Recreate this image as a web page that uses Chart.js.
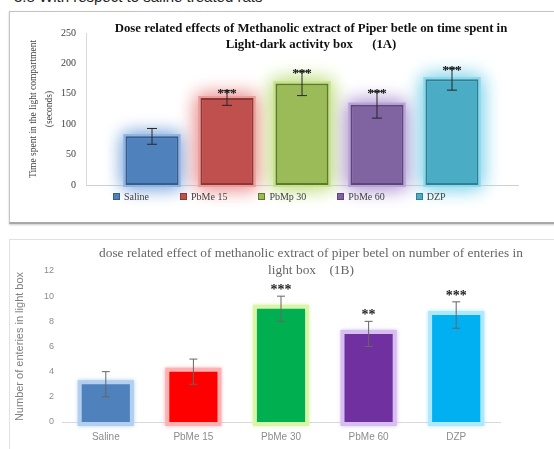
<!DOCTYPE html>
<html>
<head>
<meta charset="utf-8">
<script src="https://cdn.jsdelivr.net/npm/chart.js@4.4.0/dist/chart.umd.min.js"></script>
<style>
  body { margin: 0; width: 554px; height: 449px; overflow: hidden; background: #fff; position: relative; }
  .heading { position: absolute; left: 14px; top: -11px; font: 15px "Liberation Sans", Arial, sans-serif; color: #222; white-space: nowrap; line-height: 16px; }
  .frame { position: absolute; background: #fff; }
  #frameA { left: 9px; top: 11px; width: 600px; height: 210px; border: 1px solid #c4c4c4; border-bottom: 2px solid #a8a8a8; box-shadow: 0 1px 2px #ccc; }
  #frameB { left: 9px; top: 239px; width: 600px; height: 260px; border: 1px solid #e2e2e2; }
  canvas { position: absolute; }
  #chartA { left: 10px; top: 12px; }
  #chartB { left: 10px; top: 240px; }
  .titleA { position: absolute; left: 0; width: 622px; text-align: center; font: bold 12.8px "Liberation Serif", "Times New Roman", serif; color: #111; white-space: pre; }
  .titleB { position: absolute; left: 0; width: 622px; text-align: center; font: 13.4px "Liberation Serif", "Times New Roman", serif; color: #666; white-space: pre; }
  #legendA { position: absolute; left: 113px; top: 191px; display: flex; gap: 31px; font: 10px "Liberation Serif", serif; color: #404040; }
  #legendA .item { display: flex; align-items: center; }
  #legendA .box { width: 5px; height: 5px; margin-right: 4px; border: 1px solid; }
</style>
</head>
<body>
<div class="heading">3.8 With respect to saline treated rats</div>
<div class="frame" id="frameA"></div>
<div class="frame" id="frameB"></div>
<canvas id="chartA" width="544" height="209"></canvas>
<canvas id="chartB" width="544" height="209"></canvas>
<div class="titleA" style="top:21px">Dose related effects of Methanolic extract of Piper betle on time spent in</div>
<div class="titleA" style="top:37px">Light-dark activity box      (1A)</div>
<div class="titleB" style="top:245px">dose related effect of methanolic extract of piper betel on number of enteries in</div>
<div class="titleB" style="top:262px">light box    (1B)</div>
<div id="legendA"></div>

<script>
// -----------------------------
// Data (1A) time spent in light box
// -----------------------------
const groupsA = ["Saline", "PbMe 15", "PbMp 30", "PbMe 60", "DZP"];
const timeSpent = [80, 143, 167, 132, 174];
const timeErr = [13, 12, 20, 22, 18];
const timeSig = ["", "***", "***", "***", "***"];
const yTicksA = [0, 50, 100, 150, 200, 250];

const fillA = ["#4f81bd", "#c0504d", "#9bbb59", "#8064a2", "#4bacc6"];
const borderA = ["#385d8a", "#8c3836", "#5f7a2c", "#5c4776", "#2f7f95"];
const glowA = ["#8fb4e3", "#ec9c9a", "#c6e28c", "#b9a3d8", "#8fd8ec"];

// -----------------------------
// Data (1B) number of entries in light box
// -----------------------------
const groupsB = ["Saline", "PbMe 15", "PbMe 30", "PbMe 60", "DZP"];
const entries = [3, 4, 9, 7, 8.5];
const entriesErr = [1, 1, 1, 1, 1.05];
const entriesSig = ["", "", "***", "**", "***"];
const yTicksB = [0, 2, 4, 6, 8, 10, 12];

const fillB = ["#4f81bd", "#ff0000", "#00b050", "#7030a0", "#00b0f0"];
const glowB = ["#b3cff0", "#ffb0b0", "#d8f5a8", "#d6bff0", "#aee8ff"];

// soft halo behind every bar, drawn from the bar elements themselves
const barGlow = {
  id: "barGlow",
  beforeDatasetsDraw(chart, args, opts) {
    const ctx = chart.ctx;
    chart.data.datasets.forEach((ds, di) => {
      chart.getDatasetMeta(di).data.forEach((el, i) => {
        const { x, y, base, width } = el.getProps(["x", "y", "base", "width"], true);
        const c = opts.colors[opts.byDataset ? di : i];
        ctx.save();
        ctx.shadowColor = c;
        ctx.shadowBlur = opts.blur;
        ctx.fillStyle = c;
        for (let p = 0; p < opts.passes; p++) {
          ctx.fillRect(x - width / 2 - opts.spread, y - opts.spread, width + opts.spread * 2, base - y + opts.spread * 2);
        }
        ctx.restore();
      });
    });
  }
};

// error bars + significance stars
const errorBars = {
  id: "errorBars",
  afterDatasetsDraw(chart, args, opts) {
    const ctx = chart.ctx;
    const yScale = chart.scales.y;
    chart.data.datasets.forEach((ds, di) => {
      chart.getDatasetMeta(di).data.forEach((el, i) => {
        const k = opts.byDataset ? di : i;
        const v = ds.data[i];
        const e = opts.errors[k];
        const yTop = yScale.getPixelForValue(v + e);
        const yBot = yScale.getPixelForValue(v - e);
        ctx.save();
        ctx.strokeStyle = opts.color;
        ctx.lineWidth = 1;
        ctx.beginPath();
        ctx.moveTo(el.x, yTop);
        ctx.lineTo(el.x, yBot);
        ctx.moveTo(el.x - opts.cap, yTop);
        ctx.lineTo(el.x + opts.cap, yTop);
        ctx.moveTo(el.x - opts.cap, yBot);
        ctx.lineTo(el.x + opts.cap, yBot);
        ctx.stroke();
        if (opts.sig[k]) {
          ctx.fillStyle = opts.starColor;
          ctx.font = opts.starFont;
          ctx.textAlign = "center";
          ctx.textBaseline = "alphabetic";
          ctx.fillText(opts.sig[k], el.x, yTop + opts.starOffset);
        }
        ctx.restore();
      });
    });
  }
};

// html legend for 1A
const htmlLegend = {
  id: "htmlLegend",
  afterUpdate(chart) {
    const box = document.getElementById("legendA");
    box.innerHTML = "";
    const items = chart.options.plugins.legend.labels.generateLabels(chart);
    items.forEach((it) => {
      const li = document.createElement("div");
      li.className = "item";
      const sq = document.createElement("span");
      sq.className = "box";
      sq.style.background = it.fillStyle;
      sq.style.borderColor = it.strokeStyle;
      const tx = document.createElement("span");
      tx.textContent = it.text;
      li.appendChild(sq);
      li.appendChild(tx);
      box.appendChild(li);
    });
  }
};

// -----------------------------
// Chart 1A
// -----------------------------
new Chart(document.getElementById("chartA"), {
  type: "bar",
  data: {
    labels: [""],
    datasets: groupsA.map((g, i) => ({
      label: g,
      data: [timeSpent[i]],
      backgroundColor: fillA[i],
      borderColor: borderA[i],
      borderWidth: 2,
      borderSkipped: false,
      categoryPercentage: 0.868,
      barPercentage: 0.707
    }))
  },
  options: {
    responsive: false,
    animation: false,
    layout: { padding: { left: 10, right: 36, top: 21, bottom: 36 } },
    plugins: {
      legend: { display: false },
      tooltip: { enabled: false },
      barGlow: { colors: glowA, byDataset: true, blur: 18, spread: 2, passes: 2 },
      errorBars: { errors: timeErr, sig: timeSig, byDataset: true, color: "#262626", cap: 5, starColor: "#111", starFont: "bold 13px 'Liberation Serif', serif", starOffset: 6 }
    },
    scales: {
      x: {
        ticks: { display: false },
        grid: { display: false, drawTicks: false },
        border: { display: true, color: "#d0d0d0", width: 1 },
        afterFit: (s) => { s.height = 0; }
      },
      y: {
        min: 0,
        max: 250,
        afterBuildTicks: (s) => { s.ticks = yTicksA.map((v) => ({ value: v })); },
        ticks: { padding: 10, color: "#404040", font: { family: "'Liberation Serif', serif", size: 10 } },
        grid: { display: false, drawTicks: false },
        border: { display: true, color: "#d9d9d9", width: 1 },
        title: {
          display: true,
          text: ["Time spent in the light compartment", "(seconds)"],
          color: "#404040",
          font: { family: "'Liberation Serif', serif", size: 9.5, lineHeight: 1.7 },
          padding: { top: 5, bottom: 0 }
        },
        afterFit: (s) => { s.width = 66; }
      }
    }
  },
  plugins: [barGlow, errorBars, htmlLegend]
});

// -----------------------------
// Chart 1B
// -----------------------------
new Chart(document.getElementById("chartB"), {
  type: "bar",
  data: {
    labels: groupsB,
    datasets: [{
      label: "Number of enteries in light box",
      data: entries,
      backgroundColor: fillB,
      borderWidth: 0,
      categoryPercentage: 0.55,
      barPercentage: 1
    }]
  },
  options: {
    responsive: false,
    animation: false,
    layout: { padding: { left: 0, right: 54, top: 31, bottom: 0 } },
    plugins: {
      legend: { display: false },
      tooltip: { enabled: false },
      barGlow: { colors: glowB, byDataset: false, blur: 4, spread: 4, passes: 1 },
      errorBars: { errors: entriesErr, sig: entriesSig, byDataset: false, color: "#666", cap: 4, starColor: "#222", starFont: "bold 14px 'Liberation Serif', serif", starOffset: -2 }
    },
    scales: {
      x: {
        ticks: { padding: 9, color: "#8c8c8c", font: { family: "'Liberation Sans', sans-serif", size: 10 } },
        grid: { display: false, drawTicks: false },
        border: { display: true, color: "#d9d9d9", width: 1 },
        afterFit: (s) => { s.height = 27; }
      },
      y: {
        min: 0,
        max: 12,
        afterBuildTicks: (s) => { s.ticks = yTicksB.map((v) => ({ value: v })); },
        ticks: { padding: 8, color: "#8c8c8c", font: { family: "'Liberation Sans', sans-serif", size: 9 } },
        grid: { display: false, drawTicks: false },
        border: { display: false },
        title: {
          display: true,
          text: "Number of enteries in light box",
          color: "#7f7f7f",
          font: { family: "'Liberation Sans', sans-serif", size: 11 },
          padding: { top: 3, bottom: 0 }
        },
        afterFit: (s) => { s.width = 52; }
      }
    }
  },
  plugins: [barGlow, errorBars]
});
</script>
</body>
</html>
